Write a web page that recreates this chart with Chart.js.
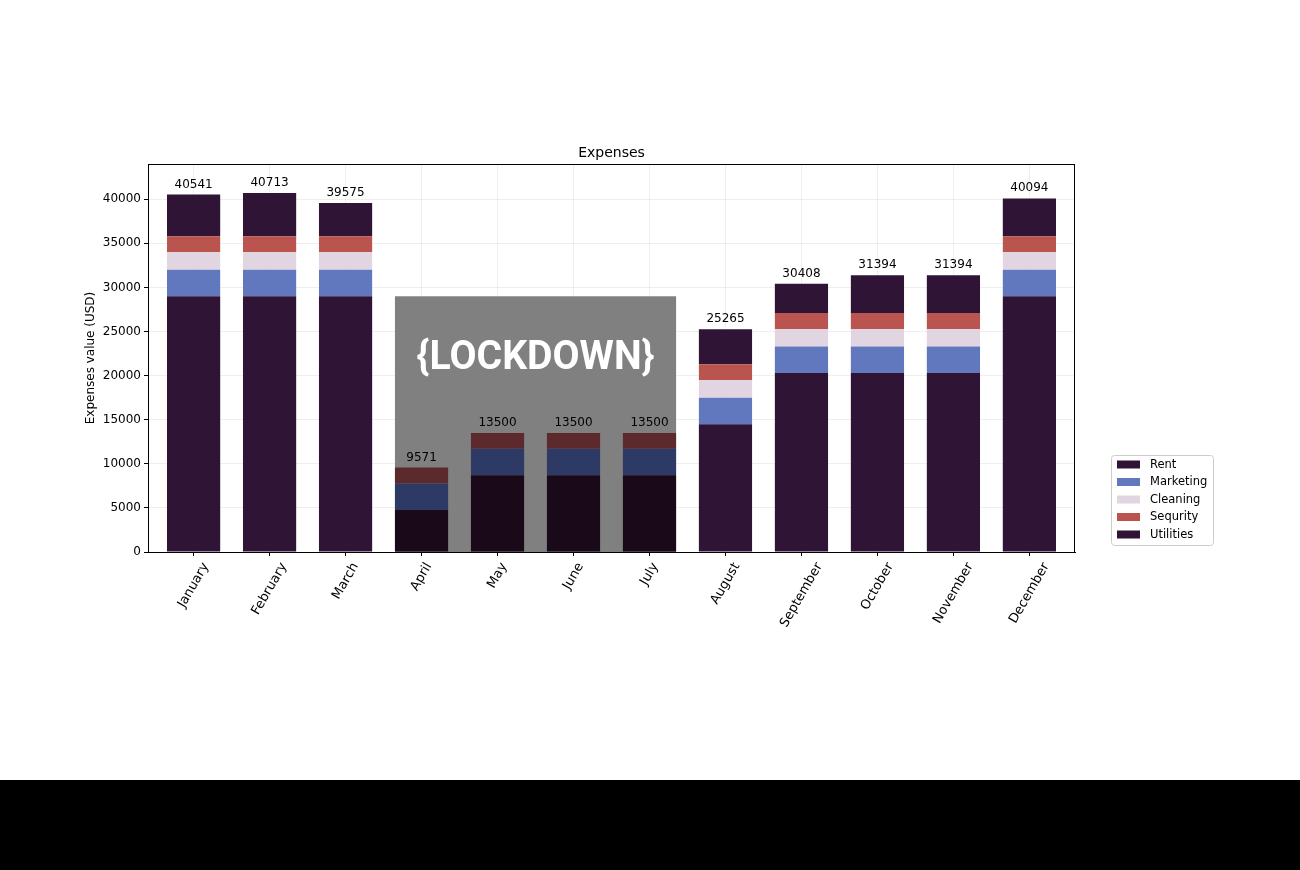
<!DOCTYPE html>
<html>
<head>
<meta charset="utf-8">
<title>Expenses</title>
<script src="https://cdn.jsdelivr.net/npm/chart.js@4.4.1/dist/chart.umd.min.js"></script>
<style>
  html, body { margin: 0; padding: 0; background: #fff; }
  #wrap { width: 1300px; height: 780px; }
  #footer { width: 1300px; height: 90px; background: #000; }
</style>
</head>
<body>
<div id="wrap"><canvas id="chart" width="1300" height="780"></canvas></div>
<div id="footer"></div>
<script>
'use strict';

// data
var months = ['January', 'February', 'March', 'April', 'May', 'June', 'July',
              'August', 'September', 'October', 'November', 'December'];
var rent      = [29000, 29000, 29000, 4771, 8700, 8700, 8700, 14500, 20300, 20300, 20300, 29000];
var marketing = [3000, 3000, 3000, 3000, 3000, 3000, 3000, 3000, 3000, 3000, 3000, 3000];
var cleaning  = [2000, 2000, 2000, 0, 0, 0, 0, 2000, 2000, 2000, 2000, 2000];
var sequrity  = [1800, 1800, 1800, 1800, 1800, 1800, 1800, 1800, 1800, 1800, 1800, 1800];
var utilities = [4741, 4913, 3775, 0, 0, 0, 0, 3965, 3308, 4294, 4294, 4294];
var yTicks = [0, 5000, 10000, 15000, 20000, 25000, 30000, 35000, 40000];

// lockdown span (month indexes) and height of the grey box
var lockdownFrom = 3;
var lockdownTo = 6;
var lockdownTop = 29000;
var lockdownTextY = 21850;

var barWidth = 0.7;

function isLockdown(i) {
    return i >= lockdownFrom && i <= lockdownTo;
}

function colorsFor(normal, dimmed) {
    return months.map(function(m, i) { return isLockdown(i) ? dimmed : normal; });
}

function points(values) {
    return values.map(function(v, i) { return { x: i, y: v }; });
}

var series = [
    { label: 'Rent',      data: rent,      color: '#2f1435', dim: '#1a0a19' },
    { label: 'Marketing', data: marketing, color: '#6278be', dim: '#2e3a66' },
    { label: 'Cleaning',  data: cleaning,  color: '#e0d5e0', dim: '#706a70' },
    { label: 'Sequrity',  data: sequrity,  color: '#b9544f', dim: '#5c2a2c' },
    { label: 'Utilities', data: utilities, color: '#2f1435', dim: '#1a0a19' }
];

var totals = months.map(function(m, i) {
    return rent[i] + marketing[i] + cleaning[i] + sequrity[i] + utilities[i];
});

var font = "'DejaVu Sans', sans-serif";

var decorations = {
    id: 'decorations',
    beforeDatasetsDraw: function(chart) {
        var ctx = chart.ctx;
        var x = chart.scales.x, y = chart.scales.y;
        var left = x.getPixelForValue(lockdownFrom - barWidth / 2);
        var right = x.getPixelForValue(lockdownTo + barWidth / 2);
        var top = y.getPixelForValue(lockdownTop);
        var bottom = y.getPixelForValue(0);
        ctx.save();
        ctx.fillStyle = '#808080';
        ctx.fillRect(left, top, right - left, bottom - top);
        ctx.restore();
    },
    afterDraw: function(chart) {
        var ctx = chart.ctx;
        var area = chart.chartArea;
        var x = chart.scales.x, y = chart.scales.y;
        ctx.save();

        // lockdown caption
        var cx = x.getPixelForValue((lockdownFrom + lockdownTo) / 2);
        var cy = y.getPixelForValue(lockdownTextY);
        ctx.font = "bold 40px Roboto, 'DejaVu Sans', sans-serif";
        var tw = ctx.measureText('{LOCKDOWN}').width;
        ctx.translate(cx, cy);
        ctx.scale(238 / tw, 1);
        ctx.fillStyle = '#ffffff';
        ctx.textAlign = 'center';
        ctx.textBaseline = 'middle';
        ctx.fillText('{LOCKDOWN}', 0, 0);
        ctx.setTransform(1, 0, 0, 1, 0, 0);

        // totals above the bars
        ctx.font = '12px ' + font;
        ctx.fillStyle = '#000';
        ctx.textAlign = 'center';
        ctx.textBaseline = 'alphabetic';
        totals.forEach(function(t, i) {
            ctx.fillText(String(t), x.getPixelForValue(i), y.getPixelForValue(t) - 7);
        });

        // frame
        ctx.strokeStyle = '#000';
        ctx.lineWidth = 1;
        ctx.strokeRect(Math.round(area.left) + 0.5, Math.round(area.top) + 0.5,
                       Math.round(area.right - area.left) - 1, Math.round(area.bottom - area.top));

        // title
        ctx.font = '14px ' + font;
        ctx.textBaseline = 'middle';
        ctx.fillText('Expenses', (area.left + area.right) / 2, area.top - 11);

        // rotated month labels, centred under each tick
        ctx.font = '13px ' + font;
        var rot = Math.PI / 3;
        months.forEach(function(m, i) {
            var w = ctx.measureText(m).width;
            var h = 12;
            var boxH = w * Math.sin(rot) + h * Math.cos(rot);
            ctx.save();
            ctx.translate(x.getPixelForValue(i), area.bottom + 9 + boxH / 2);
            ctx.rotate(-rot);
            ctx.textAlign = 'center';
            ctx.textBaseline = 'middle';
            ctx.fillText(m, 0, 0);
            ctx.restore();
        });

        // legend
        var lx = 1111, ly = 455, lw = 102, lh = 90;
        ctx.fillStyle = 'rgba(255,255,255,0.8)';
        ctx.strokeStyle = '#cccccc';
        ctx.beginPath();
        ctx.roundRect(lx + 0.5, ly + 0.5, lw, lh, 3);
        ctx.fill();
        ctx.stroke();
        ctx.font = '11.5px ' + font;
        ctx.textAlign = 'left';
        ctx.textBaseline = 'middle';
        series.forEach(function(s, i) {
            var ry = 464.5 + i * 17.5;
            ctx.fillStyle = s.color;
            ctx.fillRect(1117, ry - 4, 23, 8);
            ctx.fillStyle = '#000';
            ctx.fillText(s.label, 1150, ry + 0.5);
        });

        ctx.restore();
    }
};

new Chart(document.getElementById('chart'), {
    type: 'bar',
    data: {
        datasets: series.map(function(s) {
            return {
                label: s.label,
                data: points(s.data),
                backgroundColor: colorsFor(s.color, s.dim),
                borderWidth: 0,
                barPercentage: barWidth,
                categoryPercentage: 1
            };
        })
    },
    options: {
        responsive: false,
        animation: false,
        devicePixelRatio: 1,
        layout: { padding: { left: 80, right: 225, top: 164, bottom: 218 } },
        plugins: {
            legend: { display: false },
            title: { display: false },
            tooltip: { enabled: false }
        },
        scales: {
            x: {
                type: 'linear',
                stacked: true,
                offset: false,
                min: -0.6,
                max: 11.6,
                z: 1,
                afterBuildTicks: function(scale) {
                    scale.ticks = months.map(function(m, i) { return { value: i }; });
                },
                afterFit: function(scale) { scale.height = 10; },
                ticks: { display: false },
                grid: {
                    offset: false,
                    color: 'rgba(190,190,190,0.25)',
                    tickColor: '#000',
                    tickLength: 4,
                    drawTicks: true
                },
                border: { display: true, color: '#000' }
            },
            y: {
                stacked: true,
                min: 0,
                max: 44000,
                z: 1,
                afterBuildTicks: function(scale) {
                    scale.ticks = yTicks.map(function(v) { return { value: v }; });
                },
                afterFit: function(scale) { scale.width = 68; },
                ticks: {
                    color: '#000',
                    padding: 3,
                    font: { family: font, size: 12 },
                    callback: function(v) { return String(v); }
                },
                title: {
                    display: true,
                    text: 'Expenses value (USD)',
                    color: '#000',
                    font: { family: font, size: 12 },
                    padding: 4
                },
                grid: {
                    color: 'rgba(190,190,190,0.25)',
                    tickColor: '#000',
                    tickLength: 4,
                    drawTicks: true
                },
                border: { display: true, color: '#000' }
            }
        }
    },
    plugins: [decorations]
});
</script>
</body>
</html>
